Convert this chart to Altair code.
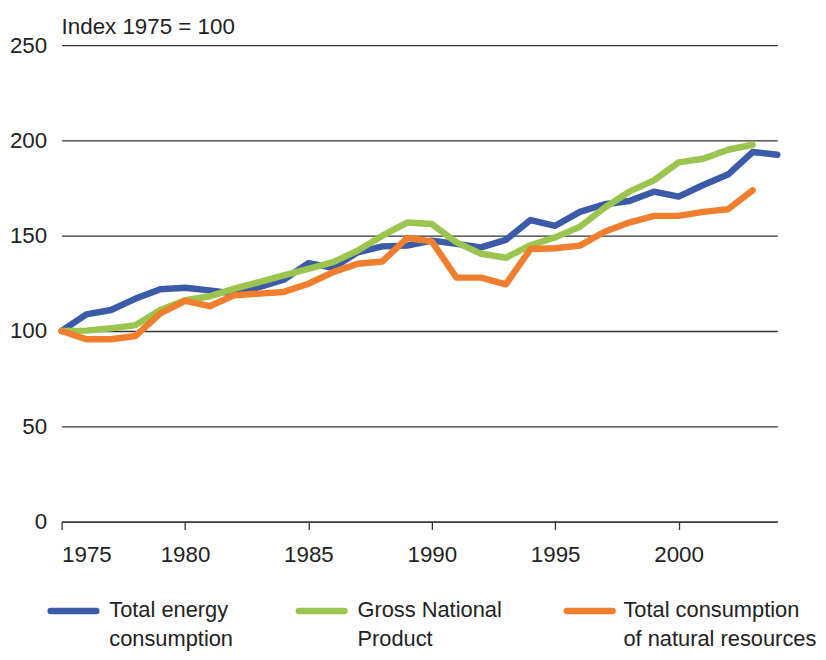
import altair as alt
import pandas as pd

FONT = "Liberation Sans, Arial, sans-serif"
FS = 22.5
LFS = 22

years_energy = list(range(1975, 2005))
energy = [100, 108.7, 111, 117, 121.9, 122.7, 121.3, 119.6, 123, 126.9,
          135.6, 133.2, 141.3, 144.4, 144.8, 147.4, 145.7, 143.9, 147.8, 158.2,
          155.2, 162.5, 166.5, 168.2, 173.1, 170.5, 176.6, 182.1, 193.9, 192.5]

years_other = list(range(1975, 2004))
gnp = [100, 100.2, 101.4, 103.1, 111, 116.1, 118.2, 122.2, 125.7, 129.2,
       132.6, 136.1, 142.2, 150, 156.9, 156.1, 146.5, 140.5, 138.4, 145,
       149.1, 154.7, 164.7, 173.1, 179, 188.5, 190.4, 195.1, 197.7]
resources = [100, 95.7, 95.7, 97.4, 109.2, 115.8, 113, 118.8, 119.6, 120.5,
             124.8, 130.9, 135.3, 136.5, 148.8, 147, 128, 128, 124.5, 143,
             143.4, 144.8, 152.1, 156.9, 160.4, 160.4, 162.5, 163.9, 173.8]

series_names = [["Total energy", "consumption"], ["Gross National", "Product"],
                ["Total consumption", "of natural resources"]]
colors = ["#3b5ba8", "#9cc54f", "#ef7f2e"]
x_ticks = [1975, 1980, 1985, 1990, 1995, 2000]
y_ticks = [0, 50, 100, 150, 200, 250]
y_title = "Index 1975 = 100"

df_e = pd.DataFrame({"year": years_energy, "value": energy})
df_g = pd.DataFrame({"year": years_other, "value": gnp})
df_r = pd.DataFrame({"year": years_other, "value": resources})

xenc = alt.X("year:Q", scale=alt.Scale(domain=[1975, 2004], nice=False, zero=False),
             axis=alt.Axis(values=x_ticks, format="d", title=None, grid=False,
                           domainColor="#333333", tickColor="#333333", tickSize=8,
                           labelFontSize=FS, labelFont=FONT, labelColor="#222222",
                           labelPadding=14, domainWidth=1.3, tickWidth=1.3))
yenc = alt.Y("value:Q", scale=alt.Scale(domain=[0, 250], nice=False),
             axis=alt.Axis(values=y_ticks, title=None, grid=True, gridColor="#333333",
                           gridWidth=1.3, domain=False, ticks=False, labelFontSize=FS,
                           labelFont=FONT, labelColor="#222222", labelPadding=15))


def line(df, color):
    return alt.Chart(df).mark_line(color=color, strokeWidth=6.5, strokeCap="round",
                                   strokeJoin="round").encode(x=xenc, y=yenc)


layers = [line(df_e, colors[0]), line(df_g, colors[1]), line(df_r, colors[2])]

# title text
layers.append(alt.Chart().mark_text(align="left", baseline="middle", font=FONT,
                                    fontSize=FS, color="#222222").encode(
    x=alt.value(0), y=alt.value(-18), text=alt.value(y_title)))

# manual legend
leg_x = [-11, 239, 509]
txt_x = [48, 298, 566]
for i in range(3):
    layers.append(alt.Chart().mark_rule(color=colors[i], strokeWidth=6.5, strokeCap="round").encode(
        x=alt.value(leg_x[i]), x2=alt.value(leg_x[i] + 46), y=alt.value(570)))
    layers.append(alt.Chart().mark_text(align="left", baseline="middle", font=FONT,
                                        fontSize=LFS, color="#222222", lineHeight=29).encode(
        x=alt.value(txt_x[i]), y=alt.value(569), text=alt.value(series_names[i])))

chart = alt.layer(*layers).properties(
    width=721, height=480,
    padding={"left": 54, "top": 35, "right": 41, "bottom": 129},
    autosize=alt.AutoSizeParams(type="none"),
).configure_view(stroke=None)

chart.save("out.html", embed_options={"renderer": "svg", "actions": False})
